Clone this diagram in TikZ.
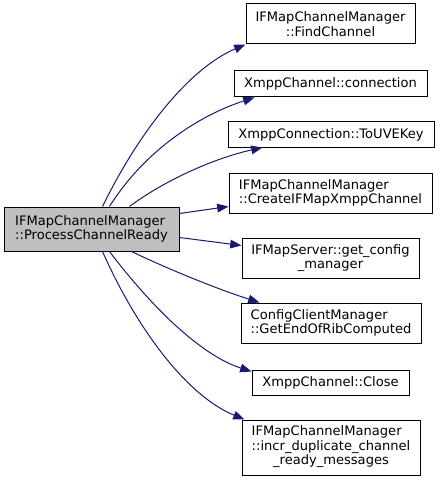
\documentclass[tikz,border=0pt]{standalone}
\usepackage{fontspec}
\setmainfont{DejaVu Sans}
\usetikzlibrary{arrows.meta,calc}
\definecolor{edgeblue}{HTML}{191970}
\definecolor{mainfill}{HTML}{BFBFBF}
\begin{document}
\begin{tikzpicture}[x=0.75pt,y=-0.75pt,
  fn/.style={draw=black,line width=0.75pt,inner sep=0pt,font=\fontsize{9.8}{10.9}\selectfont},
  cur/.style={fn,fill=mainfill},
  call/.style={draw=edgeblue,line width=0.75pt,-{Triangle[length=8.5pt,width=6.5pt]}}]
\useasboundingbox (0,0) rectangle (440,481);
\node[cur,minimum width=175*0.75pt,minimum height=44*0.75pt,align=left] (main) at (91.5,229) {IFMapChannelManager\\::ProcessChannelReady};
\node[fn,minimum width=169*0.75pt,minimum height=40*0.75pt,align=center] (find) at (330.5,24) {IFMapChannelManager\\::FindChannel};
\node[fn,minimum width=193*0.75pt,minimum height=26*0.75pt] (conn) at (330.5,84) {XmppChannel::connection};
\node[fn,minimum width=206*0.75pt,minimum height=25*0.75pt] (uve) at (331,134.5) {XmppConnection::ToUVEKey};
\node[fn,minimum width=203*0.75pt,minimum height=40*0.75pt,align=left] (create) at (330.5,193) {IFMapChannelManager\\::CreateIFMapXmppChannel};
\node[fn,minimum width=177*0.75pt,minimum height=40*0.75pt,align=center] (getcfg) at (330.5,258) {IFMapServer::get\_config\\\_manager};
\node[fn,minimum width=180*0.75pt,minimum height=40*0.75pt,align=left] (eor) at (331,323) {ConfigClientManager\\::GetEndOfRibComputed};
\node[fn,minimum width=157*0.75pt,minimum height=25*0.75pt] (close) at (330.5,382.5) {XmppChannel::Close};
\node[fn,minimum width=178*0.75pt,minimum height=55*0.75pt] (incr) at (331,447.5) {\begin{tabular}{@{}l@{}}IFMapChannelManager\\::incr\_duplicate\_channel\\\multicolumn{1}{@{}c@{}}{\_ready\_messages}\end{tabular}};
% edges
\draw[call] ($(main.north west)+(99,0)$) .. controls (140,130) and (190,68) .. (find.south west);
\draw[call] ($(main.north west)+(106,0)$) .. controls (145,150) and (200,115) .. ($(conn.south west)+(21,0)$);
\draw[call] ($(main.north west)+(126,0)$) .. controls (165,180) and (215,158) .. ($(uve.south west)+(35,0)$);
\draw[call] ($(main.north east)+(0,7)$) -- ($(create.north west)+(0,34)$);
\draw[call] ($(main.north east)+(0,31)$) -- ($(getcfg.north west)+(0,8)$);
\draw[call] ($(main.south west)+(128,0)$) .. controls (170,270) and (220,290) .. ($(eor.north west)+(19,0)$);
\draw[call] ($(main.south west)+(106,0)$) .. controls (150,305) and (200,355) .. ($(close.north west)+(0,2)$);
\draw[call] ($(main.south west)+(99,0)$) .. controls (135,325) and (185,395) .. ($(incr.north west)+(3,0)$);
\end{tikzpicture}
\end{document}
